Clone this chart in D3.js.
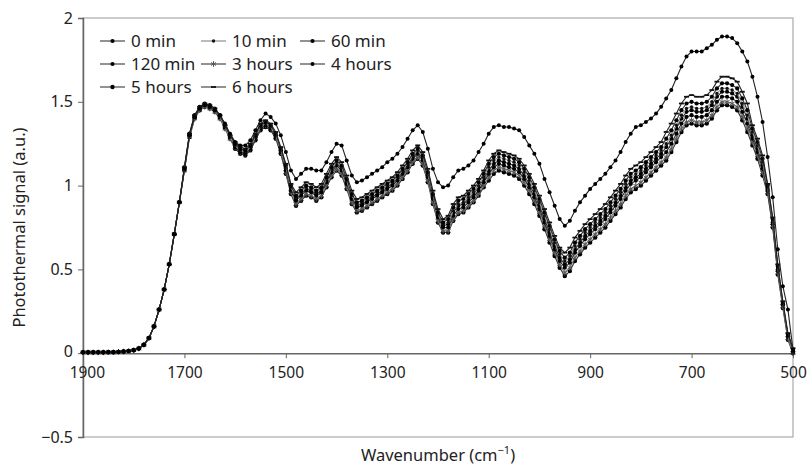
<!DOCTYPE html>
<html><head><meta charset="utf-8">
<script src="https://cdn.jsdelivr.net/npm/d3@7"></script>
<style>body{margin:0;background:#fff} svg{display:block;font-family:"Noto Sans","Open Sans",sans-serif}</style>
</head><body><svg id="c" width="808" height="466"></svg>
<script>
const wavenumbers = [1900,1890,1880,1870,1860,1850,1840,1830,1820,1810,
1800,1790,1780,1770,1760,1750,1740,1730,1720,1710,
1700,1690,1680,1670,1660,1650,1640,1630,1620,1610,
1600,1590,1580,1570,1560,1550,1540,1530,1520,1510,
1500,1490,1480,1470,1460,1450,1440,1430,1420,1410,
1400,1390,1380,1370,1360,1350,1340,1330,1320,1310,
1300,1290,1280,1270,1260,1250,1240,1230,1220,1210,
1200,1190,1180,1170,1160,1150,1140,1130,1120,1110,
1100,1090,1080,1070,1060,1050,1040,1030,1020,1010,
1000,990,980,970,960,950,940,930,920,910,
900,890,880,870,860,850,840,830,820,810,
800,790,780,770,760,750,740,730,720,710,
700,690,680,670,660,650,640,630,620,610,
600,590,580,570,560,550,540,530,520,510,500];

const seriesNames = ["0 min","10 min","60 min","120 min","3 hours","4 hours","5 hours","6 hours"];

const min0 = [0.005,0.005,0.005,0.005,0.005,0.006,0.006,0.008,0.010,0.013,
0.018,0.028,0.05,0.09,0.16,0.26,0.38,0.53,0.71,0.90,
1.10,1.30,1.41,1.46,1.48,1.47,1.45,1.41,1.35,1.29,
1.24,1.21,1.20,1.23,1.29,1.35,1.37,1.35,1.30,1.21,
1.10,0.98,0.92,0.95,0.98,0.97,0.95,0.97,1.03,1.09,
1.13,1.10,1.02,0.93,0.88,0.89,0.91,0.93,0.95,0.97,
0.99,1.01,1.04,1.08,1.12,1.17,1.20,1.16,1.06,0.93,
0.82,0.76,0.77,0.84,0.88,0.89,0.92,0.95,0.99,1.04,
1.09,1.13,1.15,1.14,1.13,1.12,1.10,1.06,1.01,0.95,
0.88,0.80,0.72,0.64,0.57,0.53,0.56,0.62,0.66,0.70,
0.73,0.76,0.79,0.82,0.86,0.90,0.94,0.99,1.03,1.05,
1.07,1.10,1.13,1.16,1.19,1.23,1.28,1.34,1.40,1.44,
1.45,1.44,1.44,1.45,1.48,1.53,1.56,1.56,1.55,1.53,
1.47,1.40,1.30,1.22,1.12,0.98,0.78,0.50,0.29,0.10,0.01];

const min10 = [0.005,0.005,0.005,0.005,0.005,0.006,0.006,0.008,0.010,0.013,
0.018,0.028,0.05,0.09,0.16,0.26,0.38,0.53,0.71,0.90,
1.10,1.30,1.41,1.46,1.48,1.47,1.45,1.41,1.35,1.29,
1.24,1.21,1.20,1.23,1.29,1.35,1.37,1.35,1.30,1.21,
1.11,0.99,0.93,0.96,0.99,0.98,0.96,0.98,1.04,1.10,
1.14,1.11,1.03,0.94,0.89,0.90,0.92,0.94,0.96,0.98,
1.00,1.02,1.05,1.09,1.13,1.18,1.21,1.17,1.07,0.94,
0.83,0.77,0.78,0.85,0.89,0.90,0.93,0.96,1.00,1.05,
1.11,1.15,1.17,1.16,1.15,1.14,1.12,1.08,1.03,0.97,
0.90,0.82,0.74,0.66,0.59,0.55,0.58,0.64,0.68,0.72,
0.75,0.78,0.81,0.84,0.88,0.92,0.96,1.01,1.05,1.07,
1.09,1.12,1.15,1.18,1.21,1.25,1.30,1.36,1.42,1.46,
1.47,1.46,1.46,1.47,1.50,1.55,1.58,1.58,1.57,1.55,
1.49,1.42,1.32,1.24,1.14,0.99,0.79,0.51,0.29,0.10,0.01];

const min60 = [0.005,0.005,0.005,0.005,0.005,0.006,0.006,0.008,0.010,0.013,
0.018,0.028,0.05,0.09,0.16,0.26,0.38,0.53,0.71,0.90,
1.10,1.30,1.41,1.46,1.48,1.47,1.45,1.41,1.35,1.29,
1.23,1.20,1.19,1.22,1.28,1.34,1.36,1.34,1.29,1.20,
1.09,0.97,0.91,0.94,0.97,0.96,0.94,0.96,1.02,1.08,
1.12,1.09,1.01,0.92,0.87,0.88,0.90,0.92,0.94,0.96,
0.98,1.00,1.03,1.07,1.11,1.16,1.19,1.15,1.05,0.92,
0.81,0.75,0.75,0.82,0.86,0.87,0.90,0.93,0.97,1.02,
1.07,1.11,1.13,1.12,1.11,1.10,1.08,1.04,0.99,0.93,
0.86,0.78,0.70,0.62,0.55,0.51,0.54,0.60,0.64,0.68,
0.71,0.74,0.77,0.80,0.84,0.88,0.92,0.97,1.01,1.03,
1.05,1.08,1.11,1.14,1.17,1.20,1.25,1.31,1.37,1.41,
1.42,1.41,1.41,1.42,1.45,1.50,1.53,1.53,1.52,1.50,
1.44,1.37,1.28,1.20,1.10,0.97,0.77,0.49,0.29,0.10,0.01];

const min120 = [0.005,0.005,0.005,0.005,0.005,0.006,0.006,0.008,0.010,0.013,
0.018,0.028,0.05,0.09,0.16,0.26,0.38,0.53,0.71,0.90,
1.11,1.31,1.42,1.47,1.49,1.48,1.46,1.42,1.36,1.30,
1.25,1.22,1.21,1.24,1.30,1.36,1.38,1.36,1.31,1.22,
1.12,1.00,0.94,0.97,1.00,0.99,0.97,0.99,1.05,1.11,
1.15,1.12,1.04,0.95,0.90,0.91,0.93,0.95,0.97,0.99,
1.01,1.03,1.06,1.10,1.14,1.19,1.22,1.18,1.08,0.95,
0.84,0.78,0.80,0.87,0.91,0.92,0.95,0.98,1.02,1.07,
1.13,1.17,1.19,1.18,1.17,1.16,1.14,1.10,1.05,0.99,
0.92,0.84,0.76,0.68,0.61,0.57,0.60,0.66,0.70,0.74,
0.77,0.80,0.83,0.86,0.90,0.94,0.98,1.03,1.07,1.09,
1.11,1.14,1.17,1.20,1.23,1.28,1.33,1.39,1.45,1.49,
1.50,1.49,1.49,1.50,1.53,1.58,1.61,1.61,1.60,1.58,
1.52,1.45,1.34,1.26,1.16,1.00,0.80,0.52,0.30,0.11,0.02];

const hours3 = [0.005,0.005,0.005,0.005,0.005,0.006,0.006,0.008,0.010,0.013,
0.018,0.028,0.05,0.09,0.16,0.26,0.38,0.53,0.71,0.90,
1.09,1.29,1.40,1.45,1.47,1.46,1.44,1.40,1.34,1.28,
1.23,1.20,1.19,1.22,1.28,1.34,1.36,1.34,1.29,1.20,
1.08,0.96,0.89,0.92,0.95,0.94,0.92,0.94,1.00,1.06,
1.10,1.07,0.99,0.90,0.85,0.86,0.88,0.90,0.92,0.94,
0.96,0.98,1.01,1.05,1.09,1.14,1.17,1.13,1.03,0.90,
0.79,0.73,0.73,0.80,0.84,0.85,0.88,0.91,0.95,1.00,
1.05,1.09,1.11,1.10,1.09,1.08,1.06,1.02,0.97,0.91,
0.84,0.76,0.68,0.60,0.53,0.48,0.51,0.57,0.61,0.65,
0.68,0.71,0.74,0.77,0.81,0.85,0.89,0.94,0.98,1.00,
1.02,1.05,1.08,1.11,1.14,1.17,1.22,1.28,1.34,1.38,
1.39,1.38,1.38,1.39,1.42,1.47,1.50,1.50,1.49,1.47,
1.41,1.34,1.26,1.18,1.08,0.96,0.76,0.48,0.28,0.09,0.00];

const hours4 = [0.005,0.005,0.005,0.005,0.005,0.006,0.006,0.008,0.010,0.013,
0.018,0.028,0.05,0.09,0.16,0.26,0.38,0.53,0.71,0.90,
1.10,1.30,1.41,1.46,1.48,1.47,1.45,1.42,1.37,1.31,
1.26,1.24,1.24,1.27,1.33,1.39,1.43,1.41,1.37,1.30,
1.20,1.09,1.04,1.07,1.10,1.10,1.09,1.09,1.14,1.20,
1.25,1.24,1.15,1.06,1.02,1.03,1.05,1.07,1.09,1.11,
1.14,1.16,1.19,1.23,1.28,1.33,1.36,1.32,1.22,1.10,
1.02,0.99,1.00,1.05,1.09,1.10,1.12,1.15,1.20,1.25,
1.31,1.35,1.36,1.35,1.35,1.34,1.33,1.29,1.24,1.19,
1.13,1.04,0.96,0.88,0.80,0.76,0.79,0.85,0.90,0.94,
0.98,1.01,1.04,1.07,1.11,1.15,1.20,1.26,1.31,1.35,
1.36,1.38,1.40,1.43,1.47,1.52,1.57,1.64,1.71,1.77,
1.80,1.80,1.80,1.82,1.84,1.87,1.89,1.89,1.88,1.85,
1.80,1.74,1.65,1.53,1.38,1.17,0.93,0.62,0.40,0.26,0.02];

const hours5 = [0.005,0.005,0.005,0.005,0.005,0.006,0.006,0.008,0.010,0.013,
0.018,0.028,0.05,0.09,0.16,0.26,0.38,0.53,0.71,0.90,
1.09,1.29,1.40,1.45,1.47,1.46,1.44,1.40,1.34,1.28,
1.22,1.19,1.18,1.21,1.27,1.33,1.35,1.33,1.28,1.19,
1.07,0.95,0.88,0.91,0.94,0.93,0.91,0.93,0.99,1.05,
1.09,1.06,0.98,0.89,0.84,0.85,0.87,0.89,0.91,0.93,
0.95,0.97,1.00,1.04,1.08,1.13,1.16,1.12,1.02,0.89,
0.78,0.72,0.72,0.79,0.83,0.84,0.87,0.90,0.94,0.99,
1.03,1.07,1.09,1.08,1.07,1.06,1.04,1.00,0.95,0.89,
0.82,0.74,0.66,0.58,0.51,0.46,0.49,0.55,0.59,0.63,
0.66,0.69,0.72,0.75,0.79,0.83,0.87,0.92,0.96,0.98,
1.00,1.03,1.06,1.09,1.12,1.15,1.20,1.26,1.32,1.36,
1.37,1.36,1.36,1.37,1.40,1.45,1.48,1.48,1.47,1.45,
1.39,1.32,1.24,1.16,1.06,0.95,0.75,0.47,0.27,0.08,0.00];

const hours6 = [0.005,0.005,0.005,0.005,0.005,0.006,0.006,0.008,0.010,0.013,
0.018,0.028,0.05,0.09,0.16,0.26,0.38,0.53,0.71,0.90,
1.11,1.31,1.42,1.47,1.49,1.48,1.46,1.42,1.36,1.30,
1.26,1.23,1.22,1.25,1.31,1.37,1.39,1.37,1.32,1.23,
1.13,1.01,0.96,0.99,1.02,1.01,0.99,1.01,1.07,1.13,
1.17,1.14,1.06,0.97,0.92,0.93,0.95,0.97,0.99,1.01,
1.03,1.05,1.08,1.12,1.16,1.21,1.24,1.20,1.10,0.97,
0.86,0.80,0.82,0.89,0.93,0.94,0.97,1.00,1.04,1.09,
1.15,1.19,1.21,1.20,1.19,1.18,1.16,1.12,1.07,1.01,
0.94,0.86,0.78,0.70,0.63,0.60,0.63,0.69,0.73,0.77,
0.80,0.83,0.86,0.89,0.93,0.97,1.01,1.06,1.10,1.12,
1.14,1.17,1.20,1.23,1.26,1.32,1.37,1.43,1.49,1.53,
1.54,1.53,1.53,1.54,1.57,1.62,1.65,1.65,1.64,1.62,
1.56,1.49,1.36,1.28,1.18,1.01,0.81,0.53,0.31,0.12,0.03];

const xTicks = [1900,1700,1500,1300,1100,900,700,500];
const yTicks = [-0.5,0,0.5,1,1.5,2];
const yTickLabels = ["\u22120.5","0","0.5","1","1.5","2"];

const seriesValues = [min0,min10,min60,min120,hours3,hours4,hours5,hours6];
const styles = [
  {line:"#333", mark:"circle", fill:"#000", r:2.1},
  {line:"#999", mark:"circle", fill:"#111", r:1.7},
  {line:"#333", mark:"circle", fill:"#000", r:2.1},
  {line:"#333", mark:"circle", fill:"#000", r:2.1},
  {line:"#777", mark:"star",   fill:"#555", r:2.4},
  {line:"#222", mark:"circle", fill:"#000", r:2.0},
  {line:"#333", mark:"circle", fill:"#000", r:2.2},
  {line:"#222", mark:"dash",   fill:"#111", r:2.5}
];

const svg = d3.select("#c");
const x = d3.scaleLinear().domain([1900,500]).range([83,793]);
const y = d3.scaleLinear().domain([-0.5,2]).range([437,18]);

// frame
svg.append("rect").attr("x",x(1900)).attr("y",y(2)).attr("width",x(500)-x(1900)).attr("height",y(-0.5)-y(2))
  .attr("fill","none").attr("stroke","#aaa").attr("stroke-width",1.2);

// y axis
const yAxis = svg.append("g").attr("transform",`translate(${x(1900)},0)`)
  .call(d3.axisLeft(y).tickValues(yTicks).tickFormat((d,i)=>yTickLabels[i]).tickSize(5).tickPadding(5));
yAxis.select(".domain").attr("stroke","#666").attr("stroke-width",1.5);
yAxis.selectAll(".tick line").attr("stroke","#666");
yAxis.selectAll("text").attr("font-size",16).attr("fill","#222").attr("font-family","Noto Sans, Open Sans, sans-serif");
yAxis.selectAll(".tick").filter(d=>d===0).select("text").attr("dy","0.22em");

// x axis at zero
const xAxis = svg.append("g").attr("transform",`translate(0,${y(0)})`)
  .call(d3.axisBottom(x).tickValues(xTicks).tickFormat(d3.format("d")).tickSize(5).tickPadding(9).tickSizeOuter(0));
xAxis.select(".domain").attr("stroke","#666").attr("stroke-width",1.5);
xAxis.selectAll(".tick line").attr("stroke","#666");
xAxis.selectAll("text").attr("font-size",15.5).attr("fill","#222").attr("font-family","Noto Sans, Open Sans, sans-serif");
xAxis.selectAll(".tick").filter(d=>d===1900).select("text").attr("dx","0.25em");

const line = d3.line().x(d=>x(d[0])).y(d=>y(d[1]));
const star = d3.symbol().type(d3.symbolAsterisk).size(22);

function drawMarker(g, st, cx, cy){
  if(st.mark==="circle"){
    g.append("circle").attr("cx",cx).attr("cy",cy).attr("r",st.r).attr("fill",st.fill);
  } else if(st.mark==="star"){
    g.append("path").attr("d",star()).attr("transform",`translate(${cx},${cy})`)
      .attr("fill","none").attr("stroke",st.fill).attr("stroke-width",1);
  } else {
    g.append("line").attr("x1",cx-st.r).attr("x2",cx+st.r).attr("y1",cy).attr("y2",cy)
      .attr("stroke",st.fill).attr("stroke-width",1.8);
  }
}

const order = [6,4,2,0,1,3,7,5];
const plot = svg.append("g");
order.forEach(i=>{
  const pts = wavenumbers.map((w,j)=>[w, seriesValues[i][j]]);
  const st = styles[i];
  const g = plot.append("g");
  g.append("path").attr("d",line(pts)).attr("fill","none").attr("stroke",st.line).attr("stroke-width",1.1);
  pts.forEach(p=>drawMarker(g, st, x(p[0]), y(p[1])));
});

// legend
const legCols = [100,201,300];
const legRows = [41,64,87];
seriesNames.forEach((name,i)=>{
  const cx = legCols[i%3], cy = legRows[Math.floor(i/3)];
  const st = styles[i];
  const g = svg.append("g");
  g.append("line").attr("x1",cx).attr("x2",cx+25).attr("y1",cy).attr("y2",cy)
    .attr("stroke",i===1?"#aaa":"#777").attr("stroke-width",1.6);
  drawMarker(g, st, cx+12.5, cy);
  g.append("text").attr("x",cx+31).attr("y",cy).attr("dy","0.35em")
    .attr("font-size",17).attr("fill","#222").text(name);
});

// axis titles
svg.append("text").attr("transform",`translate(19,${(y(2)+y(-0.5))/2}) rotate(-90)`)
  .attr("text-anchor","middle").attr("dy","0.35em").attr("font-size",16.5).attr("fill","#222")
  .text("Photothermal signal (a.u.)");
const xt = svg.append("text").attr("x",(x(1900)+x(500))/2).attr("y",461)
  .attr("text-anchor","middle").attr("font-size",16.5).attr("fill","#222");
xt.append("tspan").text("Wavenumber (cm");
xt.append("tspan").attr("font-size",11).attr("dy",-7).text("\u22121");
xt.append("tspan").attr("dy",7).text(")");
</script></body></html>
